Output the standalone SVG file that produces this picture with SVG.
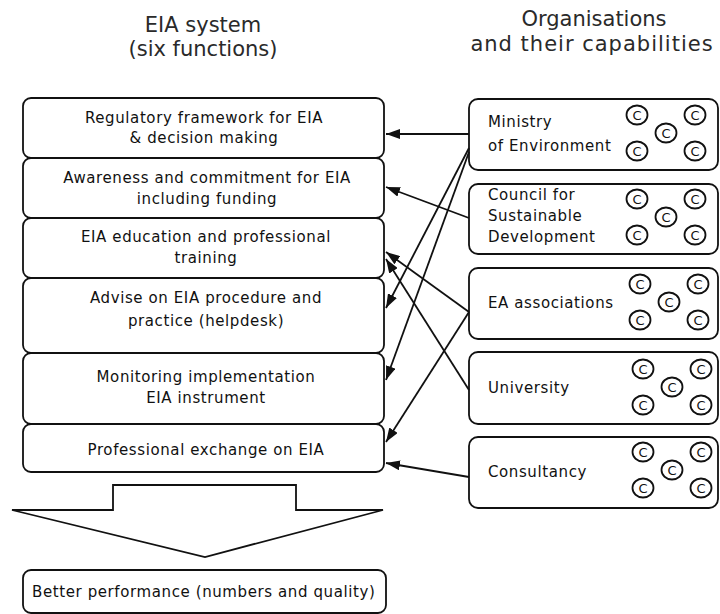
<svg xmlns="http://www.w3.org/2000/svg" width="720" height="614" viewBox="0 0 720 614">
<defs>
<style>
.box{fill:#fff;stroke:#111;stroke-width:1.8}
.t{font-family:"DejaVu Sans","Liberation Sans",sans-serif;font-size:15px;letter-spacing:0.6px;fill:#111}
.tc{text-anchor:middle}
.title{font-family:"DejaVu Sans","Liberation Sans",sans-serif;font-size:21px;fill:#2a2a2a;text-anchor:middle}
.ring{fill:#fff;stroke:#111;stroke-width:1.8}
.ct{font-family:"DejaVu Sans","Liberation Sans",sans-serif;font-size:13px;fill:#111;text-anchor:middle}
.con{stroke:#111;stroke-width:1.8;fill:none;marker-end:url(#ah)}
</style>
<marker id="ah" viewBox="0 0 14 10" refX="14" refY="5" markerWidth="14" markerHeight="10" markerUnits="userSpaceOnUse" orient="auto">
<path d="M0,0 L14,5 L0,10 Z" fill="#111"/>
</marker>
<g id="caps">
<ellipse class="ring" cx="0" cy="-19" rx="10.5" ry="9.5"/><text class="ct" x="0" y="-14.5">C</text>
<ellipse class="ring" cx="58" cy="-19" rx="10.5" ry="9.5"/><text class="ct" x="58" y="-14.5">C</text>
<ellipse class="ring" cx="29" cy="-1" rx="10.5" ry="9.5"/><text class="ct" x="29" y="3.5">C</text>
<ellipse class="ring" cx="0" cy="17" rx="10.5" ry="9.5"/><text class="ct" x="0" y="21.5">C</text>
<ellipse class="ring" cx="58" cy="17" rx="10.5" ry="9.5"/><text class="ct" x="58" y="21.5">C</text>
</g>
</defs>
<rect width="720" height="614" fill="#fff"/>

<g id="title-left">
<text class="title" x="203" y="32">EIA system</text>
<text class="title" x="203" y="56">(six functions)</text>
</g>
<g id="title-right">
<text class="title" x="594" y="26">Organisations</text>
<text class="title" x="592" y="51" style="letter-spacing:1px">and their capabilities</text>
</g>

<g id="f1"><rect class="box" x="23" y="98" width="361" height="60" rx="8"/>
<text class="t tc" x="204" y="123">Regulatory framework for EIA</text>
<text class="t tc" x="204" y="143">&amp; decision making</text></g>
<g id="f2"><rect class="box" x="23" y="158" width="361" height="60" rx="8"/>
<text class="t tc" x="207" y="183">Awareness and commitment for EIA</text>
<text class="t tc" x="207" y="204">including funding</text></g>
<g id="f3"><rect class="box" x="23" y="218" width="361" height="60" rx="8"/>
<text class="t tc" x="206" y="242">EIA education and professional</text>
<text class="t tc" x="206" y="263">training</text></g>
<g id="f4"><rect class="box" x="23" y="278" width="361" height="75" rx="8"/>
<text class="t tc" x="206" y="303">Advise on EIA procedure and</text>
<text class="t tc" x="206" y="326">practice (helpdesk)</text></g>
<g id="f5"><rect class="box" x="23" y="353" width="361" height="71" rx="8"/>
<text class="t tc" x="206" y="382">Monitoring implementation</text>
<text class="t tc" x="206" y="403">EIA instrument</text></g>
<g id="f6"><rect class="box" x="23" y="424" width="361" height="48" rx="8"/>
<text class="t tc" x="206" y="455">Professional exchange on EIA</text></g>

<g id="bigarrow"><polygon points="113,485 296,485 296,510 383,510 205,557 12,510 113,510" fill="#fff" stroke="#111" stroke-width="1.8" stroke-linejoin="miter"/></g>

<g id="result"><rect class="box" x="23" y="570" width="363" height="43" rx="8"/>
<text class="t" x="32" y="597">Better performance (numbers and quality)</text></g>

<g id="o1"><rect class="box" x="469" y="99" width="249" height="71" rx="9"/>
<text class="t" x="488" y="127">Ministry</text>
<text class="t" x="488" y="151">of Environment</text>
<use href="#caps" x="637" y="134"/></g>
<g id="o2"><rect class="box" x="469" y="184" width="249" height="70" rx="9"/>
<text class="t" x="488" y="200">Council for</text>
<text class="t" x="488" y="221">Sustainable</text>
<text class="t" x="488" y="242">Development</text>
<use href="#caps" x="637" y="218"/></g>
<g id="o3"><rect class="box" x="469" y="268" width="249" height="71" rx="9"/>
<text class="t" x="488" y="308">EA associations</text>
<use href="#caps" x="640" y="303"/></g>
<g id="o4"><rect class="box" x="469" y="352" width="249" height="72" rx="9"/>
<text class="t" x="488" y="393">University</text>
<use href="#caps" x="643" y="388"/></g>
<g id="o5"><rect class="box" x="469" y="437" width="249" height="71" rx="9"/>
<text class="t" x="488" y="477">Consultancy</text>
<use href="#caps" x="643" y="471"/></g>

<g id="connectors">
<line class="con" x1="469" y1="134" x2="386" y2="134"/>
<line class="con" x1="469" y1="218" x2="386" y2="187"/>
<line class="con" x1="469" y1="148" x2="386" y2="308"/>
<line class="con" x1="469" y1="152" x2="386" y2="380"/>
<line class="con" x1="469" y1="312" x2="386" y2="252"/>
<line class="con" x1="469" y1="312" x2="386" y2="442"/>
<line class="con" x1="469" y1="390" x2="386" y2="259"/>
<line class="con" x1="469" y1="477" x2="386" y2="463"/>
</g>
</svg>
